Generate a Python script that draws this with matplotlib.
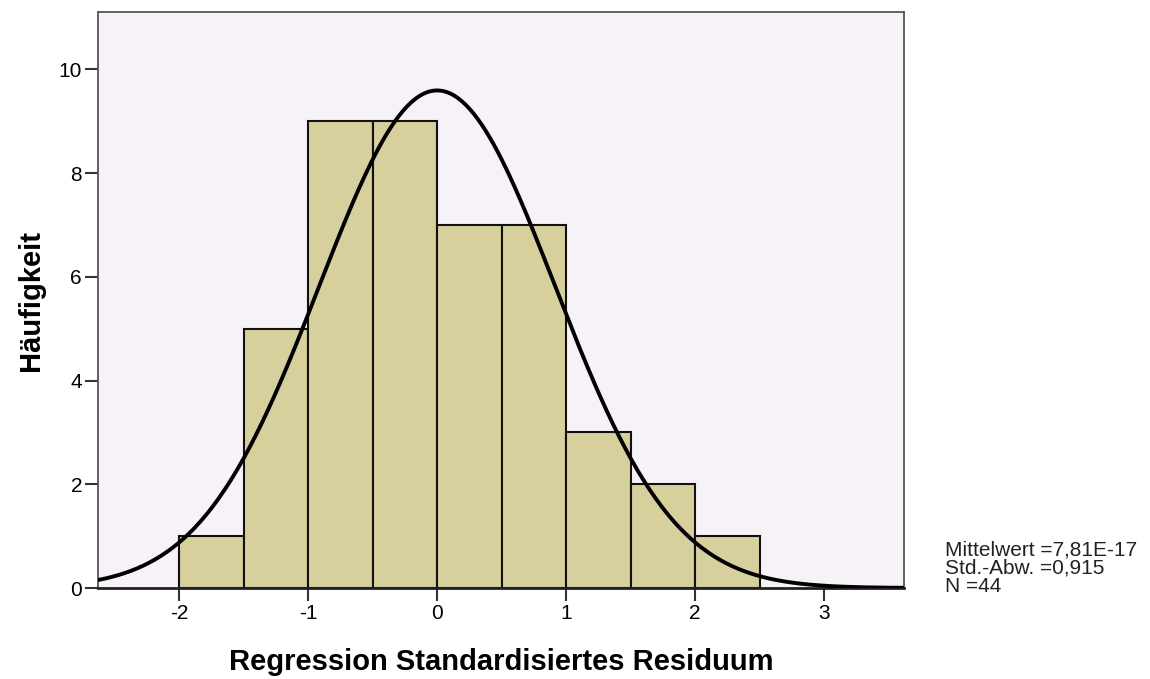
import numpy as np
import matplotlib
matplotlib.use('Agg')
import matplotlib.pyplot as plt

# histogram data
bin_edges = [-2.0, -1.5, -1.0, -0.5, 0.0, 0.5, 1.0, 1.5, 2.0, 2.5]
counts = [1, 5, 9, 9, 7, 7, 3, 2, 1]
x_ticks = [-2, -1, 0, 1, 2, 3]
y_ticks = [0, 2, 4, 6, 8, 10]

# stats shown in the legend text
mean = 7.81e-17
sd = 0.915
n = 44
bin_w = 0.5

plt.rcParams['font.family'] = ['Liberation Sans', 'DejaVu Sans']

fig = plt.figure(figsize=(11.5, 6.79), dpi=100)
ax = fig.add_axes([0.0852, 0.134, 0.7009, 0.848])
ax.set_facecolor('#f6f2f7')

widths = np.diff(bin_edges)
ax.bar(bin_edges[:-1], counts, width=widths, align='edge',
       color='#d7d09c', edgecolor='#111111', linewidth=1.5, zorder=2)

# fitted normal curve
xs = np.linspace(-2.63, 3.62, 400)
ys = n * bin_w / (sd * np.sqrt(2 * np.pi)) * np.exp(-0.5 * ((xs - mean) / sd) ** 2)
ax.plot(xs, ys, color='black', linewidth=2.8, zorder=3)

ax.set_xlim(-2.63, 3.62)
ax.set_ylim(0, 11.1)
ax.set_xticks(x_ticks)
ax.set_yticks(y_ticks)
ax.set_xticklabels([str(t) for t in x_ticks])
ax.tick_params(axis='both', labelsize=15, length=9.5, width=1.5, color='#333333', pad=2)

for side in ['top', 'right', 'left']:
    ax.spines[side].set_color('#555555')
    ax.spines[side].set_linewidth(1.3)
ax.spines['bottom'].set_color('#222222')
ax.spines['bottom'].set_linewidth(2)

ax.set_xlabel('Regression Standardisiertes Residuum', fontsize=21, fontweight='bold', labelpad=18)
ax.set_ylabel('Häufigkeit', fontsize=21, fontweight='bold', labelpad=10)

fig.text(0.822, 0.163, 'Mittelwert =7,81E-17\nStd.-Abw. =0,915\nN =44',
         fontsize=15, va='center', ha='left', linespacing=0.95, color='#222222')

fig.savefig('out.png', dpi=100)
